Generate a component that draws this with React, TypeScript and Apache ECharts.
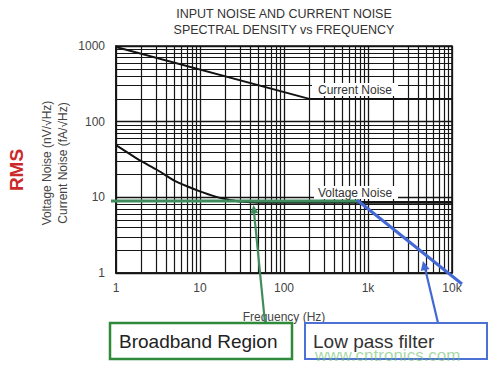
import React, { useEffect, useRef } from "react";
import * as echarts from "echarts";

const xTickValues = [1, 10, 100, 1000, 10000];
const xTickLabels = ["1", "10", "100", "1k", "10k"];
const yTickValues = [1, 10, 100, 1000];
const yTickLabels = ["1", "10", "100", "1000"];

const currentFreq = [1, 200, 10000];
const currentNoise = [970, 200, 200];

const voltageFreq = [1, 2, 3, 5, 7, 10, 15, 20, 30, 50, 100, 10000];
const voltageNoise = [49, 30, 23.5, 16.5, 14, 12, 10.3, 9.5, 8.8, 8.5, 8.5, 8.5];

const minorMultipliers = [2, 3, 4, 5, 6, 7, 8, 9];
const xDecades = [1, 10, 100, 1000];
const yDecades = [1, 10, 100];

const FONT = 'Arial, "Liberation Sans", sans-serif';

function lookup(values: number[], labels: string[], v: number) {
  const i = values.findIndex((t) => Math.abs(Math.log10(t) - Math.log10(v)) < 1e-6);
  return i >= 0 ? labels[i] : "";
}

export default function App() {
  const ref = useRef<HTMLDivElement>(null);
  useEffect(() => {
    if (!ref.current) return;
    const chart = echarts.init(ref.current, null, { renderer: "svg" });
    const gridColor = "#151515";
    const minorX = xDecades.flatMap((d) => minorMultipliers.map((m) => ({ xAxis: d * m })));
    const minorY = yDecades.flatMap((d) => minorMultipliers.map((m) => ({ yAxis: d * m })));
    const green = "#3f8c5c";
    const blue = "#4468d4";
    chart.setOption({
      animation: false,
      backgroundColor: "#ffffff",
      textStyle: { fontFamily: FONT },
      grid: {
        left: 116,
        top: 46,
        width: 336,
        height: 227,
        show: true,
        borderColor: gridColor,
        borderWidth: 1.6,
        backgroundColor: "transparent",
      },
      xAxis: {
        type: "log",
        logBase: 10,
        min: 1,
        max: 10000,
        axisLine: { show: true, lineStyle: { color: gridColor, width: 1.6 } },
        axisTick: { show: false },
        splitLine: { show: true, lineStyle: { color: gridColor, width: 1.3 } },
        axisLabel: {
          color: "#444",
          fontSize: 12,
          margin: 9,
          fontFamily: FONT,
          formatter: (v: number) => lookup(xTickValues, xTickLabels, v),
        },
        name: "Frequency (Hz)",
        nameLocation: "middle",
        nameGap: 38,
        nameTextStyle: { color: "#444", fontSize: 12, fontFamily: FONT },
      },
      yAxis: {
        type: "log",
        logBase: 10,
        min: 1,
        max: 1000,
        axisLine: { show: true, lineStyle: { color: gridColor, width: 1.6 } },
        axisTick: { show: false },
        splitLine: { show: true, lineStyle: { color: gridColor, width: 1.3 } },
        axisLabel: {
          color: "#444",
          fontSize: 12,
          margin: 11,
          fontFamily: FONT,
          formatter: (v: number) => lookup(yTickValues, yTickLabels, v),
        },
      },
      series: [
        {
          name: "Grid",
          type: "line",
          data: [],
          silent: true,
          markLine: {
            silent: true,
            symbol: "none",
            label: { show: false },
            lineStyle: { color: gridColor, width: 1.2, type: "solid" },
            data: [...minorX, ...minorY],
          },
          z: 1,
        },
        {
          name: "Current Noise",
          type: "line",
          showSymbol: false,
          symbol: "none",
          lineStyle: { color: "#111", width: 2 },
          data: currentFreq.map((f, i) => [f, currentNoise[i]]),
          z: 3,
        },
        {
          name: "Voltage Noise",
          type: "line",
          smooth: 0.2,
          showSymbol: false,
          symbol: "none",
          lineStyle: { color: "#111", width: 2 },
          data: voltageFreq.map((f, i) => [f, voltageNoise[i]]),
          z: 3,
        },
      ],
      graphic: [
        {
          type: "text",
          x: 284,
          y: 22,
          style: {
            text: "INPUT NOISE AND CURRENT NOISE\nSPECTRAL DENSITY vs FREQUENCY",
            fill: "#333",
            font: `12.5px ${FONT}`,
            align: "center",
            verticalAlign: "middle",
            lineHeight: 16,
          },
        },
        {
          type: "text",
          x: 16,
          y: 170,
          rotation: Math.PI / 2,
          style: {
            text: "RMS",
            fill: "#cc2a2a",
            font: `bold 19px ${FONT}`,
            align: "center",
            verticalAlign: "middle",
          },
        },
        {
          type: "text",
          x: 55,
          y: 163,
          rotation: Math.PI / 2,
          style: {
            text: "Voltage Noise (nV/√Hz)\nCurrent Noise (fA/√Hz)",
            fill: "#444",
            font: `12px ${FONT}`,
            align: "center",
            verticalAlign: "middle",
            lineHeight: 16,
          },
        },
        { type: "rect", shape: { x: 312, y: 83, width: 86, height: 13 }, style: { fill: "#fff" }, z: 10 },
        {
          type: "text",
          x: 318,
          y: 90,
          z: 11,
          style: { text: "Current Noise", fill: "#333", font: `12px ${FONT}`, verticalAlign: "middle" },
        },
        { type: "rect", shape: { x: 314, y: 186, width: 84, height: 13 }, style: { fill: "#fff" }, z: 10 },
        {
          type: "text",
          x: 318,
          y: 193,
          z: 11,
          style: { text: "Voltage Noise", fill: "#333", font: `12px ${FONT}`, verticalAlign: "middle" },
        },
        {
          type: "line",
          z: 12,
          shape: { x1: 111, y1: 201, x2: 360, y2: 201 },
          style: { stroke: green, lineWidth: 3 },
        },
        {
          type: "line",
          z: 12,
          shape: { x1: 357, y1: 200, x2: 462, y2: 284 },
          style: { stroke: blue, lineWidth: 3 },
        },
        {
          type: "line",
          z: 12,
          shape: { x1: 265, y1: 323, x2: 254, y2: 212 },
          style: { stroke: green, lineWidth: 2.2 },
        },
        {
          type: "polygon",
          z: 12,
          shape: { points: [[253.5, 205], [258.3, 213], [250.3, 213.8]] },
          style: { fill: green },
        },
        {
          type: "line",
          z: 12,
          shape: { x1: 438, y1: 323, x2: 425, y2: 268 },
          style: { stroke: blue, lineWidth: 2.2 },
        },
        {
          type: "polygon",
          z: 12,
          shape: { points: [[423, 261], [429.6, 269], [420.8, 271]] },
          style: { fill: blue },
        },
        {
          type: "rect",
          z: 13,
          shape: { x: 110, y: 323, width: 182, height: 36 },
          style: { fill: "#fff", stroke: "#2f8a3a", lineWidth: 2.5 },
        },
        {
          type: "text",
          z: 14,
          x: 119,
          y: 341,
          style: { text: "Broadband Region", fill: "#222", font: `19px ${FONT}`, verticalAlign: "middle" },
        },
        {
          type: "rect",
          z: 13,
          shape: { x: 305, y: 323, width: 182, height: 36 },
          style: { fill: "#fff", stroke: "#4b70d6", lineWidth: 2 },
        },
        {
          type: "text",
          z: 14,
          x: 313,
          y: 341,
          style: { text: "Low pass filter", fill: "#333", font: `19px ${FONT}`, verticalAlign: "middle" },
        },
        {
          type: "text",
          z: 15,
          x: 315,
          y: 355,
          style: {
            text: "www.cntronics.com",
            fill: "rgba(110,190,110,0.6)",
            font: `17px ${FONT}`,
            verticalAlign: "middle",
          },
        },
      ],
    });
    return () => chart.dispose();
  }, []);
  return (
    <div
      ref={ref}
      style={{ position: "fixed", left: 0, top: 0, width: 499, height: 369, background: "#fff" }}
    />
  );
}
